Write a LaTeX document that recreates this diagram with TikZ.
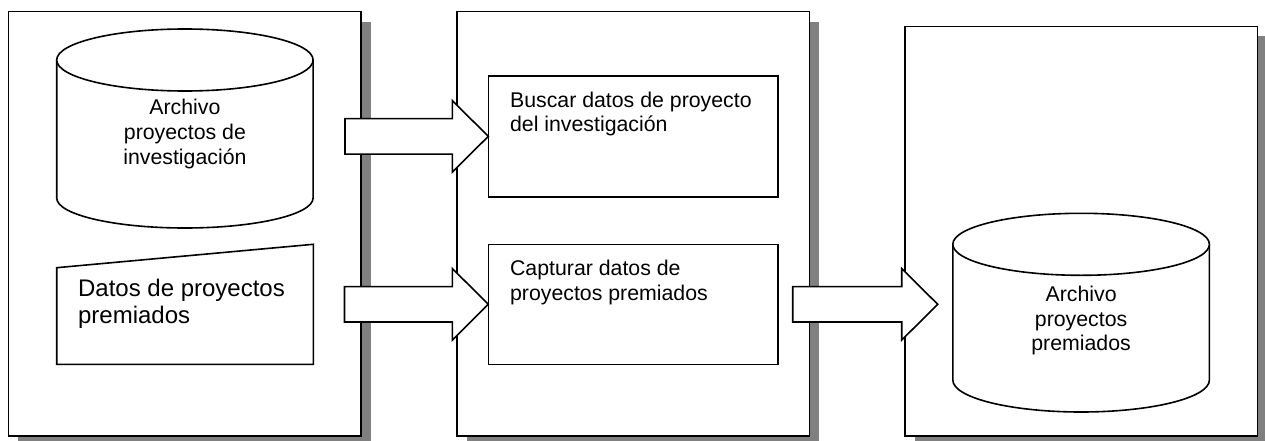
\documentclass[tikz,border=0pt]{standalone}
\usepackage{fontspec}
\setmainfont{Liberation Sans}
\usetikzlibrary{calc,shadows}
\newcommand{\blockarrow}[2]{%
  \draw[barrow] let \p1=(#1), \p2=(#2) in
    (\x1,\y2+17.7) -- (\x2-36,\y2+17.7) -- (\x2-36,\y2+35.8) -- (\x2,\y2)
    -- (\x2-36,\y2-35.8) -- (\x2-36,\y2-17.7) -- (\x1,\y2-17.7) -- cycle;}
\begin{document}
\begin{tikzpicture}[x=1pt,y=-1pt,line width=1.6pt,
  panel/.style={draw=black,fill=white,rectangle,inner sep=0pt,outer sep=0pt,anchor=north west,
    drop shadow={shadow xshift=10pt,shadow yshift=-10pt,fill=gray,opacity=1}},
  procbox/.style={draw=black,fill=white,rectangle,inner sep=0pt,outer sep=0pt,anchor=north west},
  barrow/.style={draw=black,fill=white,line join=miter},
  cyl/.style={draw=black,fill=white},
  lbl/.style={inner sep=0pt,font=\fontsize{21.3}{24.5}\selectfont},
  biglbl/.style={inner sep=0pt,font=\fontsize{24}{27}\selectfont},
]
\useasboundingbox (0,0) rectangle (1265,441);
% panels
\node[panel,minimum width=352.7pt,minimum height=424.3pt] (p1) at (8.3,11.7) {};
\node[panel,minimum width=352.6pt,minimum height=424.3pt] (p2) at (456.7,11.7) {};
\node[panel,minimum width=352.3pt,minimum height=409.5pt] (p3) at (905,26.5) {};
% cylinder 1
\draw[cyl] (56.7,60) -- (56.7,198) arc[start angle=180,end angle=0,x radius=128.2,y radius=30] -- (313.1,60);
\draw[cyl] (184.9,60) ellipse[x radius=128.2,y radius=31];
\node[lbl,anchor=base] (t1) at (184.9,115) {\begin{tabular}[t]{@{}c@{}}Archivo\\proyectos de\\investigación\end{tabular}};
% manual input
\draw[cyl] (56.7,267.7) -- (313.3,244.3) -- (313.3,364.3) -- (56.7,364.3) -- cycle;
\node[biglbl,anchor=base west] (t2) at (77.3,296.7) {\begin{tabular}[t]{@{}l@{}}Datos de proyectos\\premiados\end{tabular}};
% process boxes
\node[procbox,minimum width=289.4pt,minimum height=120.7pt] (buscar) at (488.3,76) {};
\node[procbox,minimum width=289.4pt,minimum height=120pt] (capturar) at (488.3,244.3) {};
\node[lbl,anchor=base west] (t3) at (509.3,107) {\begin{tabular}[t]{@{}l@{}}Buscar datos de proyecto\\del investigación\end{tabular}};
\node[lbl,anchor=base west] (t4) at (509.3,275.7) {\begin{tabular}[t]{@{}l@{}}Capturar datos de\\proyectos premiados\end{tabular}};
% cylinder 3
\draw[cyl] (952.8,244.3) -- (952.8,380) arc[start angle=180,end angle=0,x radius=128.3,y radius=32] -- (1209.4,244.3);
\draw[cyl] (1081.1,244.3) ellipse[x radius=128.3,y radius=31];
\node[lbl,anchor=base] (t5) at (1081.1,301.7) {\begin{tabular}[t]{@{}c@{}}Archivo\\proyectos\\premiados\end{tabular}};
% block arrows
\coordinate (a1s) at (345,136.4);
\coordinate (a2s) at (344.5,304.3);
\coordinate (a3s) at (792.7,304.3);
\coordinate (a3t) at (937.7,304.3);
\blockarrow{a1s}{buscar.west}
\blockarrow{a2s}{capturar.west}
\blockarrow{a3s}{a3t}
\end{tikzpicture}
\end{document}
